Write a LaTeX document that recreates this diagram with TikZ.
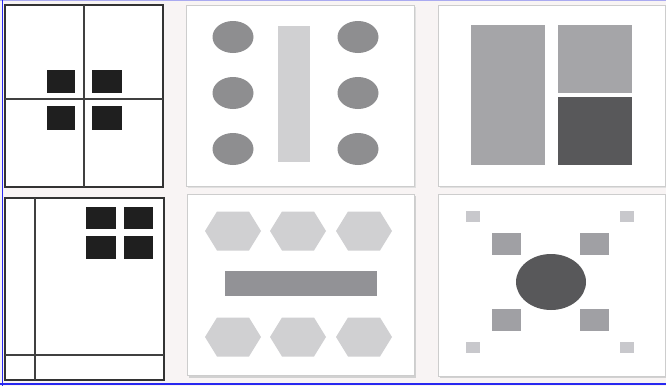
\documentclass[tikz,border=0pt]{standalone}
\definecolor{bg}{RGB}{248,244,244}
\definecolor{frm}{RGB}{205,205,205}
\definecolor{dotg}{RGB}{142,142,144}
\definecolor{lightg}{RGB}{208,208,210}
\definecolor{midg}{RGB}{165,165,168}
\definecolor{darkg}{RGB}{88,88,90}
\definecolor{barg}{RGB}{146,146,150}
\definecolor{smallg}{RGB}{200,200,204}
\definecolor{medg}{RGB}{160,160,164}
\definecolor{blueedge}{RGB}{40,40,240}
\definecolor{topedge}{RGB}{170,170,240}
\begin{document}
\begin{tikzpicture}[x=1pt,y=-1pt,
  panel/.style={draw=black!80,line width=1.2pt,fill=white},
  grid/.style={draw=black!75,line width=1.2pt},
  softpanel/.style={draw=frm,line width=1pt,fill=white},
  blk/.style={fill=black!88}]
\useasboundingbox (0,0) rectangle (666,386);
\fill[bg] (0,0) rectangle (666,386);
% panel 1
\draw[panel] (5,5) rectangle (163,187);
\draw[grid] (84,5) -- (84,187);
\draw[grid] (5,99) -- (163,99);
\fill[blk] (47,70) rectangle (75,93);
\fill[blk] (92,70) rectangle (122,93);
\fill[blk] (47,106) rectangle (75,130);
\fill[blk] (92,106) rectangle (122,130);
% panel 4
\draw[panel] (5,198) rectangle (164,380);
\draw[grid] (35,198) -- (35,380);
\draw[grid] (5,355) -- (164,355);
\fill[blk] (86,207) rectangle (116,229);
\fill[blk] (124,207) rectangle (153,229);
\fill[blk] (86,236) rectangle (116,259);
\fill[blk] (124,236) rectangle (153,259);
% panel 2
\fill[black!12] (188,7) rectangle (416,188);
\draw[softpanel] (186,5) rectangle (414,186);
\fill[lightg] (278,26) rectangle (310,162);
\foreach \x in {233,358}{\foreach \y in {37,93,149}{\fill[dotg] (\x,\y) ellipse [x radius=20.5pt,y radius=16pt];}}
% panel 5
\fill[black!18] (189,196) rectangle (416,378);
\draw[softpanel] (187,194) rectangle (414,375);
\foreach \x in {233,298,364}{\foreach \y in {231,337}{
  \fill[lightg] (\x-28,\y) -- (\x-16,\y-19.5) -- (\x+16,\y-19.5) -- (\x+28,\y) -- (\x+16,\y+19.5) -- (\x-16,\y+19.5) -- cycle;}}
\fill[barg] (225,271) rectangle (377,296);
% panel 3
\fill[black!12] (440,7) rectangle (666,188);
\draw[softpanel] (438,5) rectangle (665,186);
\fill[midg] (471,25) rectangle (545,165);
\fill[midg] (558,25) rectangle (632,93);
\fill[darkg] (558,97) rectangle (632,165);
% panel 6
\fill[black!18] (440,196) rectangle (666,378);
\draw[softpanel] (438,194) rectangle (665,376);
\foreach \x in {466,620}{\foreach \y in {211,342}{\fill[smallg] (\x,\y) rectangle ++(14,11);}}
\foreach \x in {492,580}{\foreach \y in {233,309}{\fill[medg] (\x,\y) rectangle ++(29,22);}}
\fill[darkg] (551,282) ellipse [x radius=35pt,y radius=28pt];
% edges
\draw[topedge,line width=1.5pt] (0,0.7) -- (666,0.7);
\draw[blueedge,line width=1.5pt] (2.5,0) -- (2.5,386);
\draw[blueedge,line width=1.5pt] (0,384) -- (666,384);
\end{tikzpicture}
\end{document}
